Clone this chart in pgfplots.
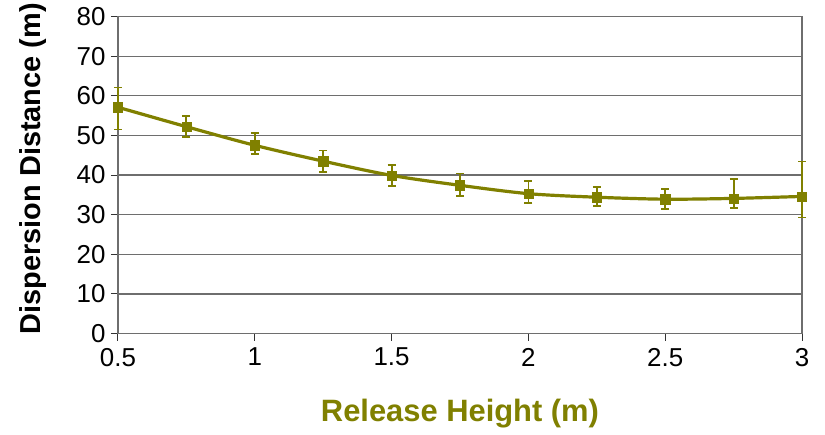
\documentclass[border=0pt]{standalone}
\usepackage{fontspec}
\setmainfont{Liberation Sans}
\usepackage{pgfplots}
\pgfplotsset{compat=1.18}
\definecolor{olivec}{RGB}{128,128,0}
\definecolor{gridc}{RGB}{110,110,110}
\begin{document}
\begin{tikzpicture}
\begin{axis}[
  scale only axis,
  width=684bp, height=317bp,
  xmin=0.5, xmax=3, ymin=0, ymax=80,
  xtick={0.5,1,1.5,2,2.5,3},
  ytick={0,10,20,30,40,50,60,70,80},
  ymajorgrids,
  grid style={gridc, line width=1.2bp},
  axis line style={gridc, line width=1.2bp},
  tick style={black!80, line width=1bp},
  tick align=outside,
  major tick length=7bp,
  xtick pos=bottom, ytick pos=left,
  /pgf/number format/assume math mode=true,
  tick label style={font=\fontsize{26}{26}\selectfont},
  xticklabel style={yshift=-4bp},
  yticklabel style={xshift=-2bp},
  xlabel={\textbf{Release Height (m)}},
  ylabel={\textbf{Dispersion Distance (m)}},
  xlabel style={font=\fontsize{31}{31}\selectfont, text=olivec, at={(axis description cs:0.5,0)}, anchor=center, yshift=-80bp},
  ylabel style={font=\fontsize{29}{29}\selectfont, at={(axis description cs:-0.124,0.52)}, anchor=center},
  clip=false,
]
\addplot[
  color=olivec, line width=3.2bp, smooth,
  mark=square*, mark size=4.6bp, mark options={solid, fill=olivec, line width=0.5bp},
  error bars/.cd, y dir=both, y explicit,
  error bar style={line width=1.8bp, olivec},
  error mark options={rotate=90, mark size=4bp, line width=1.8bp, olivec},
] coordinates {
  (0.5,57.1)  += (0,5.0) -= (0,5.6)
  (0.75,52.2) += (0,2.7) -= (0,2.7)
  (1,47.5)    += (0,3.1) -= (0,2.1)
  (1.25,43.5) += (0,2.7) -= (0,2.7)
  (1.5,39.9)  += (0,2.7) -= (0,2.7)
  (1.75,37.4) += (0,3.0) -= (0,2.6)
  (2,35.3)    += (0,3.1) -= (0,2.3)
  (2.25,34.4) += (0,2.6) -= (0,2.3)
  (2.5,33.9)  += (0,2.6) -= (0,2.4)
  (2.75,34.1) += (0,4.8) -= (0,2.5)
  (3,34.6)    += (0,8.8) -= (0,5.3)
};
\end{axis}
\path[use as bounding box] (-118bp,-101bp) rectangle (707bp,332bp);
\end{tikzpicture}
\end{document}
